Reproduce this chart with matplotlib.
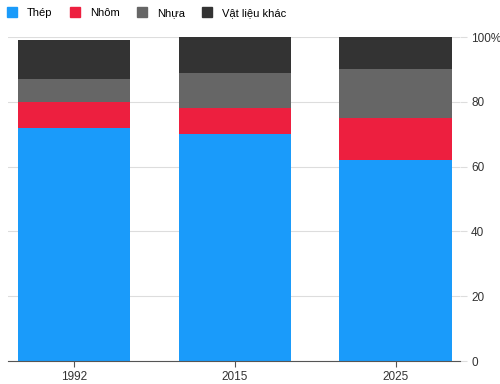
import matplotlib
matplotlib.use("Agg")
import matplotlib.pyplot as plt
from matplotlib.lines import Line2D

# --- data (share of vehicle material, %) ---
YEARS = ["1992", "2015", "2025"]
SERIES = ["Thép", "Nhôm", "Nhựa", "Vật liệu khác"]
STEEL = [72, 70, 62]
ALUMINIUM = [8, 8, 13]
PLASTIC = [7, 11, 15]
OTHER = [12, 11, 10]
COLORS = ["#1a9bfa", "#ed1f3f", "#666666", "#333333"]
YTICKS = [0, 20, 40, 60, 80, 100]
YTICK_LABELS = ["0", "20", "40", "60", "80", "100%"]

plt.rcParams["font.family"] = ["Liberation Sans", "DejaVu Sans"]

fig = plt.figure(figsize=(5.0, 3.84), dpi=100)
ax = fig.add_axes([8 / 500, 23 / 384, 452 / 500, 324 / 384])

x = range(len(YEARS))
bottom = [0, 0, 0]
for vals, col, name in zip([STEEL, ALUMINIUM, PLASTIC, OTHER], COLORS, SERIES):
    ax.bar(x, vals, bottom=bottom, width=0.7, color=col, label=name, zorder=3)
    bottom = [b + v for b, v in zip(bottom, vals)]

ax.set_xlim(-0.41, 2.40)
ax.set_ylim(0, 100)
ax.set_xticks(list(x))
ax.set_xticklabels(YEARS, fontsize=8.5, color="#333333")
ax.yaxis.tick_right()
ax.set_yticks(YTICKS)
ax.set_yticklabels(YTICK_LABELS, fontsize=8.5, color="#333333")
ax.tick_params(axis="y", length=5, color="#dddddd", pad=3)
ax.tick_params(axis="x", length=4, color="#555555", pad=3.5)
ax.grid(axis="y", color="#dddddd", linewidth=0.8, zorder=0)
for s in ["top", "left", "right"]:
    ax.spines[s].set_visible(False)
ax.spines["bottom"].set_color("#555555")
ax.spines["bottom"].set_zorder(4)

# legend row: small squares, above the plot
handles = [Line2D([], [], marker="s", linestyle="", markersize=7.2,
                  markerfacecolor=c, markeredgecolor=c) for c in COLORS]
fig.legend(handles, SERIES, loc="upper left", bbox_to_anchor=(0.004, 0.991),
           ncol=4, frameon=False, fontsize=8, handletextpad=0.85,
           columnspacing=1.5, borderaxespad=0.0, handlelength=1.0)

fig.savefig("out.png", dpi=100)
